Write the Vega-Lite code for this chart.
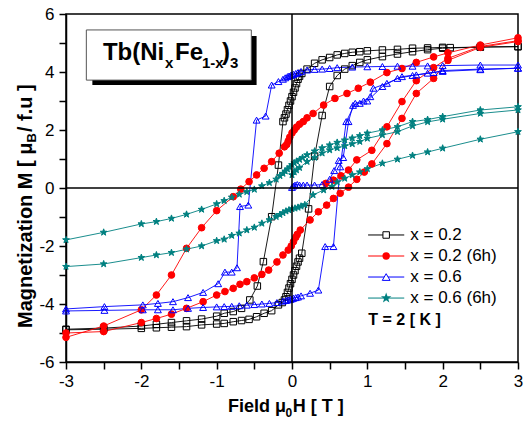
{
"$schema":"https://vega.github.io/schema/vega-lite/v6.json",
"width":452,"height":348,
"autosize":{"type":"none"},
"padding":{"left":66,"top":14,"right":10,"bottom":61},
"background":"white",
"config":{"view":{"stroke":"black","strokeWidth":1.5},"font":"Liberation Sans",
 "axis":{"labelOverlap":false,"labelFlush":false,"grid":false,"tickSize":7,"tickWidth":1.5,"tickColor":"black","domainColor":"black","domainWidth":1.5,"labelFontSize":17,"labelFont":"Liberation Sans","labelColor":"black"},
 "axisX":{"labelPadding":4},"axisY":{"labelPadding":5}},
"datasets":{"d":[
{"s":"x = 0.2","g":"b1","i":1,"x":3,"y":4.87},{"s":"x = 0.2","g":"b1","i":2,"x":2.5,"y":4.86},{"s":"x = 0.2","g":"b1","i":3,"x":2.1,"y":4.84},{"s":"x = 0.2","g":"b1","i":4,"x":2,"y":4.85},{"s":"x = 0.2","g":"b1","i":5,"x":1.8,"y":4.83},{"s":"x = 0.2","g":"b1","i":6,"x":1.6,"y":4.82},{"s":"x = 0.2","g":"b1","i":7,"x":1.4,"y":4.78},{"s":"x = 0.2","g":"b1","i":8,"x":1.2,"y":4.76},{"s":"x = 0.2","g":"b1","i":9,"x":1,"y":4.73},{"s":"x = 0.2","g":"b1","i":10,"x":0.9,"y":4.7},{"s":"x = 0.2","g":"b1","i":11,"x":0.8,"y":4.68},{"s":"x = 0.2","g":"b1","i":12,"x":0.7,"y":4.64},{"s":"x = 0.2","g":"b1","i":13,"x":0.6,"y":4.59},{"s":"x = 0.2","g":"b1","i":14,"x":0.5,"y":4.5},{"s":"x = 0.2","g":"b1","i":15,"x":0.4,"y":4.42},{"s":"x = 0.2","g":"b1","i":16,"x":0.3,"y":4.3},{"s":"x = 0.2","g":"b1","i":17,"x":0.2,"y":4.1},{"s":"x = 0.2","g":"b1","i":18,"x":0.13,"y":3.95},{"s":"x = 0.2","g":"b1","i":19,"x":0.1,"y":3.85},{"s":"x = 0.2","g":"b1","i":20,"x":0.08,"y":3.75},{"s":"x = 0.2","g":"b1","i":21,"x":0.06,"y":3.6},{"s":"x = 0.2","g":"b1","i":22,"x":0.04,"y":3.45},{"s":"x = 0.2","g":"b1","i":23,"x":0.02,"y":3.3},{"s":"x = 0.2","g":"b1","i":24,"x":0,"y":3.15},{"s":"x = 0.2","g":"b1","i":25,"x":-0.02,"y":3.0},{"s":"x = 0.2","g":"b1","i":26,"x":-0.04,"y":2.85},{"s":"x = 0.2","g":"b1","i":27,"x":-0.06,"y":2.7},{"s":"x = 0.2","g":"b1","i":28,"x":-0.08,"y":2.55},{"s":"x = 0.2","g":"b1","i":29,"x":-0.1,"y":2.42},{"s":"x = 0.2","g":"b1","i":30,"x":-0.12,"y":2.29},{"s":"x = 0.2","g":"b1","i":31,"x":-0.18,"y":0.79},{"s":"x = 0.2","g":"b1","i":32,"x":-0.27,"y":-0.99},{"s":"x = 0.2","g":"b1","i":33,"x":-0.38,"y":-2.54},{"s":"x = 0.2","g":"b1","i":34,"x":-0.46,"y":-3.38},{"s":"x = 0.2","g":"b1","i":35,"x":-0.56,"y":-3.86},{"s":"x = 0.2","g":"b1","i":36,"x":-0.67,"y":-4.15},{"s":"x = 0.2","g":"b1","i":37,"x":-0.78,"y":-4.26},{"s":"x = 0.2","g":"b1","i":38,"x":-0.9,"y":-4.32},{"s":"x = 0.2","g":"b1","i":39,"x":-1,"y":-4.42},{"s":"x = 0.2","g":"b1","i":40,"x":-1.2,"y":-4.52},{"s":"x = 0.2","g":"b1","i":41,"x":-1.4,"y":-4.58},{"s":"x = 0.2","g":"b1","i":42,"x":-1.6,"y":-4.64},{"s":"x = 0.2","g":"b1","i":43,"x":-1.8,"y":-4.7},{"s":"x = 0.2","g":"b1","i":44,"x":-2,"y":-4.76},{"s":"x = 0.2","g":"b1","i":45,"x":-2.5,"y":-4.83},{"s":"x = 0.2","g":"b1","i":46,"x":-3,"y":-4.87},
{"s":"x = 0.2","g":"b2","i":1,"x":-3,"y":-4.89},{"s":"x = 0.2","g":"b2","i":2,"x":-2.5,"y":-4.87},{"s":"x = 0.2","g":"b2","i":3,"x":-2,"y":-4.84},{"s":"x = 0.2","g":"b2","i":4,"x":-1.8,"y":-4.82},{"s":"x = 0.2","g":"b2","i":5,"x":-1.6,"y":-4.8},{"s":"x = 0.2","g":"b2","i":6,"x":-1.4,"y":-4.78},{"s":"x = 0.2","g":"b2","i":7,"x":-1.2,"y":-4.72},{"s":"x = 0.2","g":"b2","i":8,"x":-1,"y":-4.69},{"s":"x = 0.2","g":"b2","i":9,"x":-0.9,"y":-4.67},{"s":"x = 0.2","g":"b2","i":10,"x":-0.78,"y":-4.61},{"s":"x = 0.2","g":"b2","i":11,"x":-0.67,"y":-4.57},{"s":"x = 0.2","g":"b2","i":12,"x":-0.57,"y":-4.53},{"s":"x = 0.2","g":"b2","i":13,"x":-0.47,"y":-4.44},{"s":"x = 0.2","g":"b2","i":14,"x":-0.37,"y":-4.32},{"s":"x = 0.2","g":"b2","i":15,"x":-0.27,"y":-4.23},{"s":"x = 0.2","g":"b2","i":16,"x":-0.18,"y":-4.03},{"s":"x = 0.2","g":"b2","i":17,"x":-0.13,"y":-3.95},{"s":"x = 0.2","g":"b2","i":18,"x":-0.1,"y":-3.86},{"s":"x = 0.2","g":"b2","i":19,"x":-0.08,"y":-3.75},{"s":"x = 0.2","g":"b2","i":20,"x":-0.06,"y":-3.6},{"s":"x = 0.2","g":"b2","i":21,"x":-0.04,"y":-3.45},{"s":"x = 0.2","g":"b2","i":22,"x":-0.02,"y":-3.3},{"s":"x = 0.2","g":"b2","i":23,"x":0,"y":-3.15},{"s":"x = 0.2","g":"b2","i":24,"x":0.02,"y":-3.0},{"s":"x = 0.2","g":"b2","i":25,"x":0.04,"y":-2.85},{"s":"x = 0.2","g":"b2","i":26,"x":0.06,"y":-2.7},{"s":"x = 0.2","g":"b2","i":27,"x":0.08,"y":-2.55},{"s":"x = 0.2","g":"b2","i":28,"x":0.1,"y":-2.42},{"s":"x = 0.2","g":"b2","i":29,"x":0.13,"y":-2.25},{"s":"x = 0.2","g":"b2","i":30,"x":0.22,"y":-0.72},{"s":"x = 0.2","g":"b2","i":31,"x":0.3,"y":1.1},{"s":"x = 0.2","g":"b2","i":32,"x":0.4,"y":2.5},{"s":"x = 0.2","g":"b2","i":33,"x":0.5,"y":3.5},{"s":"x = 0.2","g":"b2","i":34,"x":0.6,"y":3.88},{"s":"x = 0.2","g":"b2","i":35,"x":0.7,"y":4.1},{"s":"x = 0.2","g":"b2","i":36,"x":0.8,"y":4.22},{"s":"x = 0.2","g":"b2","i":37,"x":0.9,"y":4.33},{"s":"x = 0.2","g":"b2","i":38,"x":1,"y":4.42},{"s":"x = 0.2","g":"b2","i":39,"x":1.2,"y":4.53},{"s":"x = 0.2","g":"b2","i":40,"x":1.4,"y":4.62},{"s":"x = 0.2","g":"b2","i":41,"x":1.6,"y":4.7},{"s":"x = 0.2","g":"b2","i":42,"x":1.8,"y":4.77},{"s":"x = 0.2","g":"b2","i":43,"x":2,"y":4.82},{"s":"x = 0.2","g":"b2","i":44,"x":2.5,"y":4.86},{"s":"x = 0.2","g":"b2","i":45,"x":3,"y":4.88},
{"s":"x = 0.2 (6h)","g":"r0","i":4,"x":0.45,"y":0.16},{"s":"x = 0.2 (6h)","g":"r0","i":5,"x":0.55,"y":0.27},{"s":"x = 0.2 (6h)","g":"r0","i":6,"x":0.65,"y":0.42},{"s":"x = 0.2 (6h)","g":"r0","i":7,"x":0.75,"y":0.62},{"s":"x = 0.2 (6h)","g":"r0","i":8,"x":0.86,"y":0.97},{"s":"x = 0.2 (6h)","g":"r0","i":9,"x":1.06,"y":1.3},{"s":"x = 0.2 (6h)","g":"r0","i":10,"x":1.26,"y":2.11},{"s":"x = 0.2 (6h)","g":"r0","i":11,"x":1.46,"y":2.98},{"s":"x = 0.2 (6h)","g":"r0","i":12,"x":1.65,"y":3.7},{"s":"x = 0.2 (6h)","g":"r0","i":13,"x":1.88,"y":4.15},{"s":"x = 0.2 (6h)","g":"r0","i":14,"x":2.07,"y":4.47},{"s":"x = 0.2 (6h)","g":"r0","i":15,"x":2.5,"y":4.88},{"s":"x = 0.2 (6h)","g":"r0","i":16,"x":3,"y":5.08},
{"s":"x = 0.2 (6h)","g":"r1","i":1,"x":3,"y":5.18},{"s":"x = 0.2 (6h)","g":"r1","i":2,"x":2.5,"y":4.93},{"s":"x = 0.2 (6h)","g":"r1","i":3,"x":2.07,"y":4.66},{"s":"x = 0.2 (6h)","g":"r1","i":4,"x":1.88,"y":4.52},{"s":"x = 0.2 (6h)","g":"r1","i":5,"x":1.65,"y":4.33},{"s":"x = 0.2 (6h)","g":"r1","i":6,"x":1.46,"y":4.12},{"s":"x = 0.2 (6h)","g":"r1","i":7,"x":1.26,"y":3.98},{"s":"x = 0.2 (6h)","g":"r1","i":8,"x":1.04,"y":3.65},{"s":"x = 0.2 (6h)","g":"r1","i":9,"x":0.88,"y":3.44},{"s":"x = 0.2 (6h)","g":"r1","i":10,"x":0.73,"y":3.26},{"s":"x = 0.2 (6h)","g":"r1","i":11,"x":0.57,"y":3.09},{"s":"x = 0.2 (6h)","g":"r1","i":12,"x":0.42,"y":2.86},{"s":"x = 0.2 (6h)","g":"r1","i":13,"x":0.28,"y":2.57},{"s":"x = 0.2 (6h)","g":"r1","i":14,"x":0.2,"y":2.42},{"s":"x = 0.2 (6h)","g":"r1","i":15,"x":0.15,"y":2.29},{"s":"x = 0.2 (6h)","g":"r1","i":16,"x":0.1,"y":2.2},{"s":"x = 0.2 (6h)","g":"r1","i":17,"x":0.06,"y":2.1},{"s":"x = 0.2 (6h)","g":"r1","i":18,"x":0.03,"y":2.0},{"s":"x = 0.2 (6h)","g":"r1","i":19,"x":0,"y":1.9},{"s":"x = 0.2 (6h)","g":"r1","i":20,"x":-0.03,"y":1.75},{"s":"x = 0.2 (6h)","g":"r1","i":21,"x":-0.05,"y":1.62},{"s":"x = 0.2 (6h)","g":"r1","i":22,"x":-0.07,"y":1.5},{"s":"x = 0.2 (6h)","g":"r1","i":23,"x":-0.1,"y":1.42},{"s":"x = 0.2 (6h)","g":"r1","i":24,"x":-0.17,"y":1.2},{"s":"x = 0.2 (6h)","g":"r1","i":25,"x":-0.27,"y":0.91},{"s":"x = 0.2 (6h)","g":"r1","i":26,"x":-0.37,"y":0.68},{"s":"x = 0.2 (6h)","g":"r1","i":27,"x":-0.47,"y":0.45},{"s":"x = 0.2 (6h)","g":"r1","i":28,"x":-0.57,"y":0.22},{"s":"x = 0.2 (6h)","g":"r1","i":29,"x":-0.68,"y":-0.04},{"s":"x = 0.2 (6h)","g":"r1","i":30,"x":-0.78,"y":-0.3},{"s":"x = 0.2 (6h)","g":"r1","i":31,"x":-1,"y":-0.78},{"s":"x = 0.2 (6h)","g":"r1","i":32,"x":-1.2,"y":-1.37},{"s":"x = 0.2 (6h)","g":"r1","i":33,"x":-1.4,"y":-2.08},{"s":"x = 0.2 (6h)","g":"r1","i":34,"x":-1.6,"y":-3.0},{"s":"x = 0.2 (6h)","g":"r1","i":35,"x":-1.8,"y":-3.69},{"s":"x = 0.2 (6h)","g":"r1","i":36,"x":-2,"y":-4.2},{"s":"x = 0.2 (6h)","g":"r1","i":37,"x":-2.5,"y":-4.76},{"s":"x = 0.2 (6h)","g":"r1","i":38,"x":-3,"y":-5.15},
{"s":"x = 0.2 (6h)","g":"r2","i":1,"x":-3,"y":-5.0},{"s":"x = 0.2 (6h)","g":"r2","i":2,"x":-2.5,"y":-4.95},{"s":"x = 0.2 (6h)","g":"r2","i":3,"x":-2,"y":-4.64},{"s":"x = 0.2 (6h)","g":"r2","i":4,"x":-1.8,"y":-4.5},{"s":"x = 0.2 (6h)","g":"r2","i":5,"x":-1.6,"y":-4.35},{"s":"x = 0.2 (6h)","g":"r2","i":6,"x":-1.4,"y":-4.15},{"s":"x = 0.2 (6h)","g":"r2","i":7,"x":-1.18,"y":-3.92},{"s":"x = 0.2 (6h)","g":"r2","i":8,"x":-1,"y":-3.69},{"s":"x = 0.2 (6h)","g":"r2","i":9,"x":-0.89,"y":-3.57},{"s":"x = 0.2 (6h)","g":"r2","i":10,"x":-0.78,"y":-3.46},{"s":"x = 0.2 (6h)","g":"r2","i":11,"x":-0.69,"y":-3.32},{"s":"x = 0.2 (6h)","g":"r2","i":12,"x":-0.6,"y":-3.23},{"s":"x = 0.2 (6h)","g":"r2","i":13,"x":-0.5,"y":-3.1},{"s":"x = 0.2 (6h)","g":"r2","i":14,"x":-0.4,"y":-2.98},{"s":"x = 0.2 (6h)","g":"r2","i":15,"x":-0.31,"y":-2.83},{"s":"x = 0.2 (6h)","g":"r2","i":16,"x":-0.2,"y":-2.55},{"s":"x = 0.2 (6h)","g":"r2","i":17,"x":-0.12,"y":-2.31},{"s":"x = 0.2 (6h)","g":"r2","i":18,"x":-0.05,"y":-2.14},{"s":"x = 0.2 (6h)","g":"r2","i":19,"x":-0.01,"y":-2.0},{"s":"x = 0.2 (6h)","g":"r2","i":20,"x":0.02,"y":-1.85},{"s":"x = 0.2 (6h)","g":"r2","i":21,"x":0.05,"y":-1.7},{"s":"x = 0.2 (6h)","g":"r2","i":22,"x":0.07,"y":-1.6},{"s":"x = 0.2 (6h)","g":"r2","i":23,"x":0.11,"y":-1.45},{"s":"x = 0.2 (6h)","g":"r2","i":24,"x":0.24,"y":-1.1},{"s":"x = 0.2 (6h)","g":"r2","i":25,"x":0.35,"y":-0.82},{"s":"x = 0.2 (6h)","g":"r2","i":26,"x":0.46,"y":-0.59},{"s":"x = 0.2 (6h)","g":"r2","i":27,"x":0.55,"y":-0.36},{"s":"x = 0.2 (6h)","g":"r2","i":28,"x":0.64,"y":-0.18},{"s":"x = 0.2 (6h)","g":"r2","i":29,"x":0.75,"y":0.03},{"s":"x = 0.2 (6h)","g":"r2","i":30,"x":0.86,"y":0.3},{"s":"x = 0.2 (6h)","g":"r2","i":31,"x":0.96,"y":0.55},{"s":"x = 0.2 (6h)","g":"r2","i":32,"x":1.06,"y":0.83},{"s":"x = 0.2 (6h)","g":"r2","i":33,"x":1.26,"y":1.53},{"s":"x = 0.2 (6h)","g":"r2","i":34,"x":1.46,"y":2.4},{"s":"x = 0.2 (6h)","g":"r2","i":35,"x":1.65,"y":3.26},{"s":"x = 0.2 (6h)","g":"r2","i":36,"x":1.88,"y":3.78},{"s":"x = 0.2 (6h)","g":"r2","i":37,"x":2.07,"y":4.4},{"s":"x = 0.2 (6h)","g":"r2","i":38,"x":2.5,"y":4.85},{"s":"x = 0.2 (6h)","g":"r2","i":39,"x":3,"y":5.05},
{"s":"x = 0.6","g":"u0","i":1,"x":0,"y":0.02},{"s":"x = 0.6","g":"u0","i":2,"x":0.02,"y":0.07},{"s":"x = 0.6","g":"u0","i":3,"x":0.04,"y":0.1},{"s":"x = 0.6","g":"u0","i":4,"x":0.07,"y":0.12},{"s":"x = 0.6","g":"u0","i":5,"x":0.1,"y":0.1},{"s":"x = 0.6","g":"u0","i":6,"x":0.15,"y":0.1},{"s":"x = 0.6","g":"u0","i":7,"x":0.2,"y":0.1},{"s":"x = 0.6","g":"u0","i":8,"x":0.3,"y":0.1},{"s":"x = 0.6","g":"u0","i":9,"x":0.4,"y":0.12},{"s":"x = 0.6","g":"u0","i":10,"x":0.5,"y":0.3},{"s":"x = 0.6","g":"u0","i":11,"x":0.56,"y":0.6},{"s":"x = 0.6","g":"u0","i":12,"x":0.62,"y":0.95},{"s":"x = 0.6","g":"u0","i":13,"x":0.68,"y":1.05},{"s":"x = 0.6","g":"u0","i":14,"x":0.75,"y":2.29},{"s":"x = 0.6","g":"u0","i":15,"x":0.81,"y":2.85},{"s":"x = 0.6","g":"u0","i":16,"x":0.9,"y":2.92},{"s":"x = 0.6","g":"u0","i":17,"x":1,"y":3.0},{"s":"x = 0.6","g":"u0","i":18,"x":1.2,"y":3.5},{"s":"x = 0.6","g":"u0","i":19,"x":1.4,"y":3.78},{"s":"x = 0.6","g":"u0","i":20,"x":1.6,"y":3.88},{"s":"x = 0.6","g":"u0","i":21,"x":1.8,"y":3.96},{"s":"x = 0.6","g":"u0","i":22,"x":2,"y":4.02},{"s":"x = 0.6","g":"u0","i":23,"x":2.5,"y":4.08},{"s":"x = 0.6","g":"u0","i":24,"x":3,"y":4.13},
{"s":"x = 0.6","g":"u1","i":1,"x":3,"y":4.24},{"s":"x = 0.6","g":"u1","i":2,"x":2.5,"y":4.24},{"s":"x = 0.6","g":"u1","i":3,"x":2,"y":4.22},{"s":"x = 0.6","g":"u1","i":4,"x":1.8,"y":4.21},{"s":"x = 0.6","g":"u1","i":5,"x":1.6,"y":4.2},{"s":"x = 0.6","g":"u1","i":6,"x":1.4,"y":4.2},{"s":"x = 0.6","g":"u1","i":7,"x":1.2,"y":4.19},{"s":"x = 0.6","g":"u1","i":8,"x":1,"y":4.18},{"s":"x = 0.6","g":"u1","i":9,"x":0.8,"y":4.17},{"s":"x = 0.6","g":"u1","i":10,"x":0.6,"y":4.15},{"s":"x = 0.6","g":"u1","i":11,"x":0.5,"y":4.12},{"s":"x = 0.6","g":"u1","i":12,"x":0.4,"y":4.1},{"s":"x = 0.6","g":"u1","i":13,"x":0.3,"y":4.09},{"s":"x = 0.6","g":"u1","i":14,"x":0.2,"y":4.07},{"s":"x = 0.6","g":"u1","i":15,"x":0.12,"y":4.02},{"s":"x = 0.6","g":"u1","i":16,"x":0.08,"y":3.98},{"s":"x = 0.6","g":"u1","i":17,"x":0.05,"y":3.95},{"s":"x = 0.6","g":"u1","i":18,"x":0.02,"y":3.92},{"s":"x = 0.6","g":"u1","i":19,"x":0,"y":3.9},{"s":"x = 0.6","g":"u1","i":20,"x":-0.02,"y":3.88},{"s":"x = 0.6","g":"u1","i":21,"x":-0.04,"y":3.86},{"s":"x = 0.6","g":"u1","i":22,"x":-0.06,"y":3.84},{"s":"x = 0.6","g":"u1","i":23,"x":-0.09,"y":3.8},{"s":"x = 0.6","g":"u1","i":24,"x":-0.12,"y":3.75},{"s":"x = 0.6","g":"u1","i":25,"x":-0.18,"y":3.67},{"s":"x = 0.6","g":"u1","i":26,"x":-0.27,"y":3.55},{"s":"x = 0.6","g":"u1","i":27,"x":-0.35,"y":2.48},{"s":"x = 0.6","g":"u1","i":28,"x":-0.47,"y":2.34},{"s":"x = 0.6","g":"u1","i":29,"x":-0.58,"y":-0.59},{"s":"x = 0.6","g":"u1","i":30,"x":-0.69,"y":-0.64},{"s":"x = 0.6","g":"u1","i":31,"x":-0.73,"y":-2.75},{"s":"x = 0.6","g":"u1","i":32,"x":-0.8,"y":-2.9},{"s":"x = 0.6","g":"u1","i":33,"x":-0.89,"y":-2.9},{"s":"x = 0.6","g":"u1","i":34,"x":-0.98,"y":-3.3},{"s":"x = 0.6","g":"u1","i":35,"x":-1.18,"y":-3.6},{"s":"x = 0.6","g":"u1","i":36,"x":-1.38,"y":-3.78},{"s":"x = 0.6","g":"u1","i":37,"x":-1.58,"y":-3.92},{"s":"x = 0.6","g":"u1","i":38,"x":-1.78,"y":-3.98},{"s":"x = 0.6","g":"u1","i":39,"x":-1.98,"y":-4.03},{"s":"x = 0.6","g":"u1","i":40,"x":-2.49,"y":-4.09},{"s":"x = 0.6","g":"u1","i":41,"x":-3,"y":-4.17},
{"s":"x = 0.6","g":"u2","i":1,"x":-3,"y":-4.24},{"s":"x = 0.6","g":"u2","i":2,"x":-2.49,"y":-4.22},{"s":"x = 0.6","g":"u2","i":3,"x":-1.98,"y":-4.2},{"s":"x = 0.6","g":"u2","i":4,"x":-1.78,"y":-4.2},{"s":"x = 0.6","g":"u2","i":5,"x":-1.58,"y":-4.2},{"s":"x = 0.6","g":"u2","i":6,"x":-1.38,"y":-4.15},{"s":"x = 0.6","g":"u2","i":7,"x":-1.18,"y":-4.12},{"s":"x = 0.6","g":"u2","i":8,"x":-1,"y":-4.1},{"s":"x = 0.6","g":"u2","i":9,"x":-0.9,"y":-4.09},{"s":"x = 0.6","g":"u2","i":10,"x":-0.8,"y":-4.08},{"s":"x = 0.6","g":"u2","i":11,"x":-0.7,"y":-4.06},{"s":"x = 0.6","g":"u2","i":12,"x":-0.6,"y":-4.04},{"s":"x = 0.6","g":"u2","i":13,"x":-0.5,"y":-4.02},{"s":"x = 0.6","g":"u2","i":14,"x":-0.4,"y":-4.0},{"s":"x = 0.6","g":"u2","i":15,"x":-0.3,"y":-3.98},{"s":"x = 0.6","g":"u2","i":16,"x":-0.2,"y":-3.95},{"s":"x = 0.6","g":"u2","i":17,"x":-0.12,"y":-3.9},{"s":"x = 0.6","g":"u2","i":18,"x":-0.08,"y":-3.88},{"s":"x = 0.6","g":"u2","i":19,"x":-0.05,"y":-3.86},{"s":"x = 0.6","g":"u2","i":20,"x":-0.02,"y":-3.84},{"s":"x = 0.6","g":"u2","i":21,"x":0,"y":-3.82},{"s":"x = 0.6","g":"u2","i":22,"x":0.02,"y":-3.8},{"s":"x = 0.6","g":"u2","i":23,"x":0.05,"y":-3.78},{"s":"x = 0.6","g":"u2","i":24,"x":0.08,"y":-3.76},{"s":"x = 0.6","g":"u2","i":25,"x":0.12,"y":-3.72},{"s":"x = 0.6","g":"u2","i":26,"x":0.24,"y":-3.63},{"s":"x = 0.6","g":"u2","i":27,"x":0.35,"y":-3.52},{"s":"x = 0.6","g":"u2","i":28,"x":0.44,"y":-2.02},{"s":"x = 0.6","g":"u2","i":29,"x":0.55,"y":-2.02},{"s":"x = 0.6","g":"u2","i":30,"x":0.64,"y":0.73},{"s":"x = 0.6","g":"u2","i":31,"x":0.72,"y":2.29},{"s":"x = 0.6","g":"u2","i":32,"x":0.84,"y":2.92},{"s":"x = 0.6","g":"u2","i":33,"x":0.95,"y":3.0},{"s":"x = 0.6","g":"u2","i":34,"x":1.04,"y":3.15},{"s":"x = 0.6","g":"u2","i":35,"x":1.08,"y":3.44},{"s":"x = 0.6","g":"u2","i":36,"x":1.26,"y":3.61},{"s":"x = 0.6","g":"u2","i":37,"x":1.46,"y":3.84},{"s":"x = 0.6","g":"u2","i":38,"x":1.65,"y":3.9},{"s":"x = 0.6","g":"u2","i":39,"x":1.88,"y":3.98},{"s":"x = 0.6","g":"u2","i":40,"x":2,"y":4.05},{"s":"x = 0.6","g":"u2","i":41,"x":2.5,"y":4.1},{"s":"x = 0.6","g":"u2","i":42,"x":3,"y":4.13},
{"s":"x = 0.6 (6h)","g":"t1","i":1,"x":3,"y":2.8},{"s":"x = 0.6 (6h)","g":"t1","i":2,"x":2.5,"y":2.69},{"s":"x = 0.6 (6h)","g":"t1","i":3,"x":2,"y":2.46},{"s":"x = 0.6 (6h)","g":"t1","i":4,"x":1.8,"y":2.36},{"s":"x = 0.6 (6h)","g":"t1","i":5,"x":1.6,"y":2.29},{"s":"x = 0.6 (6h)","g":"t1","i":6,"x":1.4,"y":2.11},{"s":"x = 0.6 (6h)","g":"t1","i":7,"x":1.2,"y":2.0},{"s":"x = 0.6 (6h)","g":"t1","i":8,"x":1,"y":1.89},{"s":"x = 0.6 (6h)","g":"t1","i":9,"x":0.9,"y":1.8},{"s":"x = 0.6 (6h)","g":"t1","i":10,"x":0.8,"y":1.72},{"s":"x = 0.6 (6h)","g":"t1","i":11,"x":0.7,"y":1.65},{"s":"x = 0.6 (6h)","g":"t1","i":12,"x":0.6,"y":1.57},{"s":"x = 0.6 (6h)","g":"t1","i":13,"x":0.5,"y":1.48},{"s":"x = 0.6 (6h)","g":"t1","i":14,"x":0.4,"y":1.38},{"s":"x = 0.6 (6h)","g":"t1","i":15,"x":0.3,"y":1.27},{"s":"x = 0.6 (6h)","g":"t1","i":16,"x":0.2,"y":1.14},{"s":"x = 0.6 (6h)","g":"t1","i":17,"x":0.14,"y":1.05},{"s":"x = 0.6 (6h)","g":"t1","i":18,"x":0.1,"y":0.98},{"s":"x = 0.6 (6h)","g":"t1","i":19,"x":0.06,"y":0.92},{"s":"x = 0.6 (6h)","g":"t1","i":20,"x":0.03,"y":0.86},{"s":"x = 0.6 (6h)","g":"t1","i":21,"x":0,"y":0.8},{"s":"x = 0.6 (6h)","g":"t1","i":22,"x":-0.03,"y":0.72},{"s":"x = 0.6 (6h)","g":"t1","i":23,"x":-0.06,"y":0.65},{"s":"x = 0.6 (6h)","g":"t1","i":24,"x":-0.09,"y":0.58},{"s":"x = 0.6 (6h)","g":"t1","i":25,"x":-0.12,"y":0.5},{"s":"x = 0.6 (6h)","g":"t1","i":26,"x":-0.16,"y":0.42},{"s":"x = 0.6 (6h)","g":"t1","i":27,"x":-0.21,"y":0.3},{"s":"x = 0.6 (6h)","g":"t1","i":28,"x":-0.3,"y":0.18},{"s":"x = 0.6 (6h)","g":"t1","i":29,"x":-0.4,"y":0.07},{"s":"x = 0.6 (6h)","g":"t1","i":30,"x":-0.5,"y":-0.05},{"s":"x = 0.6 (6h)","g":"t1","i":31,"x":-0.6,"y":-0.13},{"s":"x = 0.6 (6h)","g":"t1","i":32,"x":-0.7,"y":-0.22},{"s":"x = 0.6 (6h)","g":"t1","i":33,"x":-0.8,"y":-0.32},{"s":"x = 0.6 (6h)","g":"t1","i":34,"x":-0.9,"y":-0.44},{"s":"x = 0.6 (6h)","g":"t1","i":35,"x":-1,"y":-0.55},{"s":"x = 0.6 (6h)","g":"t1","i":36,"x":-1.2,"y":-0.74},{"s":"x = 0.6 (6h)","g":"t1","i":37,"x":-1.4,"y":-0.91},{"s":"x = 0.6 (6h)","g":"t1","i":38,"x":-1.6,"y":-1.05},{"s":"x = 0.6 (6h)","g":"t1","i":39,"x":-1.8,"y":-1.16},{"s":"x = 0.6 (6h)","g":"t1","i":40,"x":-2,"y":-1.24},{"s":"x = 0.6 (6h)","g":"t1","i":41,"x":-2.5,"y":-1.53},{"s":"x = 0.6 (6h)","g":"t1","i":42,"x":-3,"y":-1.79},
{"s":"x = 0.6 (6h)","g":"t0","i":1,"x":0,"y":0.45},{"s":"x = 0.6 (6h)","g":"t0","i":2,"x":0.03,"y":0.55},{"s":"x = 0.6 (6h)","g":"t0","i":3,"x":0.06,"y":0.62},{"s":"x = 0.6 (6h)","g":"t0","i":4,"x":0.1,"y":0.7},{"s":"x = 0.6 (6h)","g":"t0","i":5,"x":0.2,"y":0.91},{"s":"x = 0.6 (6h)","g":"t0","i":6,"x":0.3,"y":1.05},{"s":"x = 0.6 (6h)","g":"t0","i":7,"x":0.4,"y":1.2},{"s":"x = 0.6 (6h)","g":"t0","i":8,"x":0.5,"y":1.31},{"s":"x = 0.6 (6h)","g":"t0","i":9,"x":0.6,"y":1.38},{"s":"x = 0.6 (6h)","g":"t0","i":10,"x":0.7,"y":1.45},{"s":"x = 0.6 (6h)","g":"t0","i":11,"x":0.8,"y":1.52},{"s":"x = 0.6 (6h)","g":"t0","i":12,"x":0.9,"y":1.6},{"s":"x = 0.6 (6h)","g":"t0","i":13,"x":1,"y":1.71},{"s":"x = 0.6 (6h)","g":"t0","i":14,"x":1.2,"y":1.83},{"s":"x = 0.6 (6h)","g":"t0","i":15,"x":1.4,"y":1.94},{"s":"x = 0.6 (6h)","g":"t0","i":16,"x":1.6,"y":2.14},{"s":"x = 0.6 (6h)","g":"t0","i":17,"x":1.8,"y":2.28},{"s":"x = 0.6 (6h)","g":"t0","i":18,"x":2,"y":2.37},{"s":"x = 0.6 (6h)","g":"t0","i":19,"x":2.5,"y":2.57},{"s":"x = 0.6 (6h)","g":"t0","i":20,"x":3,"y":2.69},
{"s":"x = 0.6 (6h)","g":"t2","i":1,"x":-3,"y":-2.71},{"s":"x = 0.6 (6h)","g":"t2","i":2,"x":-2.5,"y":-2.62},{"s":"x = 0.6 (6h)","g":"t2","i":3,"x":-2,"y":-2.4},{"s":"x = 0.6 (6h)","g":"t2","i":4,"x":-1.8,"y":-2.31},{"s":"x = 0.6 (6h)","g":"t2","i":5,"x":-1.6,"y":-2.23},{"s":"x = 0.6 (6h)","g":"t2","i":6,"x":-1.4,"y":-2.11},{"s":"x = 0.6 (6h)","g":"t2","i":7,"x":-1.2,"y":-2.0},{"s":"x = 0.6 (6h)","g":"t2","i":8,"x":-1,"y":-1.82},{"s":"x = 0.6 (6h)","g":"t2","i":9,"x":-0.9,"y":-1.77},{"s":"x = 0.6 (6h)","g":"t2","i":10,"x":-0.8,"y":-1.64},{"s":"x = 0.6 (6h)","g":"t2","i":11,"x":-0.7,"y":-1.56},{"s":"x = 0.6 (6h)","g":"t2","i":12,"x":-0.6,"y":-1.45},{"s":"x = 0.6 (6h)","g":"t2","i":13,"x":-0.5,"y":-1.36},{"s":"x = 0.6 (6h)","g":"t2","i":14,"x":-0.4,"y":-1.22},{"s":"x = 0.6 (6h)","g":"t2","i":15,"x":-0.3,"y":-1.1},{"s":"x = 0.6 (6h)","g":"t2","i":16,"x":-0.21,"y":-0.99},{"s":"x = 0.6 (6h)","g":"t2","i":17,"x":-0.16,"y":-0.92},{"s":"x = 0.6 (6h)","g":"t2","i":18,"x":-0.12,"y":-0.86},{"s":"x = 0.6 (6h)","g":"t2","i":19,"x":-0.08,"y":-0.8},{"s":"x = 0.6 (6h)","g":"t2","i":20,"x":-0.04,"y":-0.76},{"s":"x = 0.6 (6h)","g":"t2","i":21,"x":0,"y":-0.72},{"s":"x = 0.6 (6h)","g":"t2","i":22,"x":0.04,"y":-0.7},{"s":"x = 0.6 (6h)","g":"t2","i":23,"x":0.08,"y":-0.67},{"s":"x = 0.6 (6h)","g":"t2","i":24,"x":0.12,"y":-0.63},{"s":"x = 0.6 (6h)","g":"t2","i":25,"x":0.17,"y":-0.58},{"s":"x = 0.6 (6h)","g":"t2","i":26,"x":0.28,"y":-0.24},{"s":"x = 0.6 (6h)","g":"t2","i":27,"x":0.42,"y":-0.07},{"s":"x = 0.6 (6h)","g":"t2","i":28,"x":0.53,"y":0.05},{"s":"x = 0.6 (6h)","g":"t2","i":29,"x":0.6,"y":0.2},{"s":"x = 0.6 (6h)","g":"t2","i":30,"x":0.7,"y":0.33},{"s":"x = 0.6 (6h)","g":"t2","i":31,"x":0.8,"y":0.45},{"s":"x = 0.6 (6h)","g":"t2","i":32,"x":0.9,"y":0.55},{"s":"x = 0.6 (6h)","g":"t2","i":33,"x":1,"y":0.66},{"s":"x = 0.6 (6h)","g":"t2","i":34,"x":1.2,"y":0.85},{"s":"x = 0.6 (6h)","g":"t2","i":35,"x":1.4,"y":0.99},{"s":"x = 0.6 (6h)","g":"t2","i":36,"x":1.6,"y":1.12},{"s":"x = 0.6 (6h)","g":"t2","i":37,"x":1.8,"y":1.24},{"s":"x = 0.6 (6h)","g":"t2","i":38,"x":2,"y":1.37},{"s":"x = 0.6 (6h)","g":"t2","i":39,"x":2.5,"y":1.68},{"s":"x = 0.6 (6h)","g":"t2","i":40,"x":3,"y":1.94}
]},
"layer":[
{"data":{"name":"d"},"mark":{"type":"line","strokeWidth":0.9},"encoding":{
 "x":{"field":"x","type":"quantitative","scale":{"domain":[-3,3],"nice":false,"zero":false},"axis":{"title":null,"values":[-3,-2.5,-2,-1.5,-1,-0.5,0,0.5,1,1.5,2,2.5,3],"labelExpr":"datum.value % 1 === 0 ? '' + datum.value : ''"}},
 "y":{"field":"y","type":"quantitative","scale":{"domain":[-6,6],"nice":false,"zero":false},"axis":{"title":null,"values":[-6,-5,-4,-3,-2,-1,0,1,2,3,4,5,6],"labelExpr":"datum.value % 2 === 0 ? '' + datum.value : ''"}},
 "color":{"field":"s","type":"nominal","scale":{"domain":["x = 0.2","x = 0.2 (6h)","x = 0.6","x = 0.6 (6h)"],"range":["#000000","#ff0000","#0000ff","#008080"]},"legend":null},
 "detail":{"field":"g"},"order":{"field":"i","type":"quantitative"}}},
{"data":{"name":"d"},"mark":{"type":"point","filled":false,"opacity":1,"strokeWidth":1},"encoding":{
 "x":{"field":"x","type":"quantitative","axis":{"title":null,"values":[-3,-2.5,-2,-1.5,-1,-0.5,0,0.5,1,1.5,2,2.5,3],"labelExpr":"datum.value % 1 === 0 ? '' + datum.value : ''"}},
 "y":{"field":"y","type":"quantitative","axis":{"title":null,"values":[-6,-5,-4,-3,-2,-1,0,1,2,3,4,5,6],"labelExpr":"datum.value % 2 === 0 ? '' + datum.value : ''"}},
 "color":{"field":"s","type":"nominal","legend":null},
 "fill":{"field":"s","type":"nominal","scale":{"domain":["x = 0.2","x = 0.2 (6h)","x = 0.6","x = 0.6 (6h)"],"range":["transparent","#ff0000","transparent","#008080"]},"legend":null},
 "size":{"field":"s","type":"nominal","scale":{"domain":["x = 0.2","x = 0.2 (6h)","x = 0.6","x = 0.6 (6h)"],"range":[42,50,56,120]},"legend":null},
 "shape":{"field":"s","type":"nominal","scale":{"domain":["x = 0.2","x = 0.2 (6h)","x = 0.6","x = 0.6 (6h)"],"range":["square","circle","triangle-up","M0,-1L0.2351,-0.3236L0.9511,-0.309L0.3804,0.1236L0.5878,0.809L0,0.4L-0.5878,0.809L-0.3804,0.1236L-0.9511,-0.309L-0.2351,-0.3236Z"]},"legend":null}}},
{"data":{"values":[{}]},"mark":{"type":"rule","color":"black","strokeWidth":1.5},"encoding":{"x":{"datum":0,"type":"quantitative","axis":{"title":null,"values":[-3,-2.5,-2,-1.5,-1,-0.5,0,0.5,1,1.5,2,2.5,3],"labelExpr":"datum.value % 1 === 0 ? '' + datum.value : ''"}}}},
{"data":{"values":[{}]},"mark":{"type":"rule","color":"black","strokeWidth":1.5},"encoding":{"y":{"datum":0,"type":"quantitative","axis":{"title":null,"values":[-6,-5,-4,-3,-2,-1,0,1,2,3,4,5,6],"labelExpr":"datum.value % 2 === 0 ? '' + datum.value : ''"}}}},
{"data":{"values":[{}]},
 "encoding":{"x":{"datum":-2.65,"type":"quantitative","axis":{"title":null,"values":[-3,-2.5,-2,-1.5,-1,-0.5,0,0.5,1,1.5,2,2.5,3],"labelExpr":"datum.value % 1 === 0 ? '' + datum.value : ''"}},"y":{"datum":5.24,"type":"quantitative","axis":{"title":null,"values":[-6,-5,-4,-3,-2,-1,0,1,2,3,4,5,6],"labelExpr":"datum.value % 2 === 0 ? '' + datum.value : ''"}}},
 "layer":[
  {"mark":{"type":"rect","color":"black"},"encoding":{"x":{"datum":-2.65,"type":"quantitative"},"x2":{"datum":-0.47},"y":{"datum":5.24,"type":"quantitative"},"y2":{"datum":3.55}}},
  {"mark":{"type":"rect","fill":"white","stroke":"#555555","strokeWidth":1},"encoding":{"x":{"datum":-2.73,"type":"quantitative"},"x2":{"datum":-0.54},"y":{"datum":5.45,"type":"quantitative"},"y2":{"datum":3.72}}},
  {"mark":{"type":"text","text":"Tb(Ni","fontWeight":"bold","fontSize":24,"align":"left","baseline":"alphabetic","color":"black"},"encoding":{"x":{"datum":-2.51,"type":"quantitative"},"y":{"datum":4.41,"type":"quantitative"}}},
  {"mark":{"type":"text","text":"x","fontWeight":"bold","fontSize":15,"align":"left","baseline":"alphabetic","color":"black"},"encoding":{"x":{"datum":-1.686,"type":"quantitative"},"y":{"datum":4.14,"type":"quantitative"}}},
  {"mark":{"type":"text","text":"Fe","fontWeight":"bold","fontSize":24,"align":"left","baseline":"alphabetic","color":"black"},"encoding":{"x":{"datum":-1.553,"type":"quantitative"},"y":{"datum":4.41,"type":"quantitative"}}},
  {"mark":{"type":"text","text":"1-x","fontWeight":"bold","fontSize":15,"align":"left","baseline":"alphabetic","color":"black"},"encoding":{"x":{"datum":-1.195,"type":"quantitative"},"y":{"datum":4.14,"type":"quantitative"}}},
  {"mark":{"type":"text","text":")","fontWeight":"bold","fontSize":24,"align":"left","baseline":"alphabetic","color":"black"},"encoding":{"x":{"datum":-0.929,"type":"quantitative"},"y":{"datum":4.41,"type":"quantitative"}}},
  {"mark":{"type":"text","text":"3","fontWeight":"bold","fontSize":15,"align":"left","baseline":"alphabetic","color":"black"},"encoding":{"x":{"datum":-0.823,"type":"quantitative"},"y":{"datum":4.14,"type":"quantitative"}}},
  {"mark":{"type":"rule","color":"#000000","strokeWidth":1},"encoding":{"x":{"datum":1.01,"type":"quantitative"},"x2":{"datum":1.49},"y":{"datum":-1.62,"type":"quantitative"}}},
  {"mark":{"type":"rule","color":"#ff0000","strokeWidth":1},"encoding":{"x":{"datum":1.01,"type":"quantitative"},"x2":{"datum":1.49},"y":{"datum":-2.345,"type":"quantitative"}}},
  {"mark":{"type":"rule","color":"#0000ff","strokeWidth":1},"encoding":{"x":{"datum":1.01,"type":"quantitative"},"x2":{"datum":1.49},"y":{"datum":-3.07,"type":"quantitative"}}},
  {"mark":{"type":"rule","color":"#008080","strokeWidth":1},"encoding":{"x":{"datum":1.01,"type":"quantitative"},"x2":{"datum":1.49},"y":{"datum":-3.795,"type":"quantitative"}}},
  {"mark":{"type":"point","shape":"square","size":42,"fill":"white","stroke":"#000000","strokeWidth":1,"opacity":1},"encoding":{"x":{"datum":1.25,"type":"quantitative"},"y":{"datum":-1.62,"type":"quantitative"}}},
  {"mark":{"type":"point","shape":"circle","size":55,"filled":true,"color":"#ff0000","opacity":1},"encoding":{"x":{"datum":1.25,"type":"quantitative"},"y":{"datum":-2.345,"type":"quantitative"}}},
  {"mark":{"type":"point","shape":"triangle-up","size":60,"fill":"white","stroke":"#0000ff","strokeWidth":1,"opacity":1},"encoding":{"x":{"datum":1.25,"type":"quantitative"},"y":{"datum":-3.07,"type":"quantitative"}}},
  {"mark":{"type":"point","shape":"M0,-1L0.2351,-0.3236L0.9511,-0.309L0.3804,0.1236L0.5878,0.809L0,0.4L-0.5878,0.809L-0.3804,0.1236L-0.9511,-0.309L-0.2351,-0.3236Z","size":120,"filled":true,"color":"#008080","opacity":1},"encoding":{"x":{"datum":1.25,"type":"quantitative"},"y":{"datum":-3.795,"type":"quantitative"}}},
  {"mark":{"type":"text","text":"x = 0.2","fontSize":17,"align":"left","baseline":"middle","color":"black"},"encoding":{"x":{"datum":1.57,"type":"quantitative"},"y":{"datum":-1.62,"type":"quantitative"}}},
  {"mark":{"type":"text","text":"x = 0.2 (6h)","fontSize":17,"align":"left","baseline":"middle","color":"black"},"encoding":{"x":{"datum":1.57,"type":"quantitative"},"y":{"datum":-2.345,"type":"quantitative"}}},
  {"mark":{"type":"text","text":"x = 0.6","fontSize":17,"align":"left","baseline":"middle","color":"black"},"encoding":{"x":{"datum":1.57,"type":"quantitative"},"y":{"datum":-3.07,"type":"quantitative"}}},
  {"mark":{"type":"text","text":"x = 0.6 (6h)","fontSize":17,"align":"left","baseline":"middle","color":"black"},"encoding":{"x":{"datum":1.57,"type":"quantitative"},"y":{"datum":-3.795,"type":"quantitative"}}},
  {"mark":{"type":"text","text":"T = 2 [ K ]","fontWeight":"bold","fontSize":16,"align":"left","baseline":"alphabetic","color":"black"},"encoding":{"x":{"datum":1.013,"type":"quantitative"},"y":{"datum":-4.72,"type":"quantitative"}}},
  {"mark":{"type":"text","text":"Field μ","fontWeight":"bold","fontSize":18,"align":"left","baseline":"alphabetic","color":"black"},"encoding":{"x":{"datum":-0.85,"type":"quantitative"},"y":{"datum":-7.724,"type":"quantitative"}}},
  {"mark":{"type":"text","text":"0","fontWeight":"bold","fontSize":12,"align":"left","baseline":"alphabetic","color":"black"},"encoding":{"x":{"datum":-0.085,"type":"quantitative"},"y":{"datum":-7.897,"type":"quantitative"}}},
  {"mark":{"type":"text","text":"H [  T  ]","fontWeight":"bold","fontSize":18,"align":"left","baseline":"alphabetic","color":"black"},"encoding":{"x":{"datum":0.01,"type":"quantitative"},"y":{"datum":-7.724,"type":"quantitative"}}},
  {"mark":{"type":"text","text":"Magnetization M [ μ","fontWeight":"bold","fontSize":20,"angle":270,"align":"left","baseline":"alphabetic","color":"black"},"encoding":{"x":{"datum":-3.451,"type":"quantitative"},"y":{"datum":-4.828,"type":"quantitative"}}},
  {"mark":{"type":"text","text":"B","fontWeight":"bold","fontSize":13,"angle":270,"align":"left","baseline":"alphabetic","color":"black"},"encoding":{"x":{"datum":-3.398,"type":"quantitative"},"y":{"datum":1.569,"type":"quantitative"}}},
  {"mark":{"type":"text","text":" / f.u ]","fontWeight":"bold","fontSize":20,"angle":270,"align":"left","baseline":"alphabetic","color":"black"},"encoding":{"x":{"datum":-3.451,"type":"quantitative"},"y":{"datum":1.93,"type":"quantitative"}}}
 ]}
]
}
